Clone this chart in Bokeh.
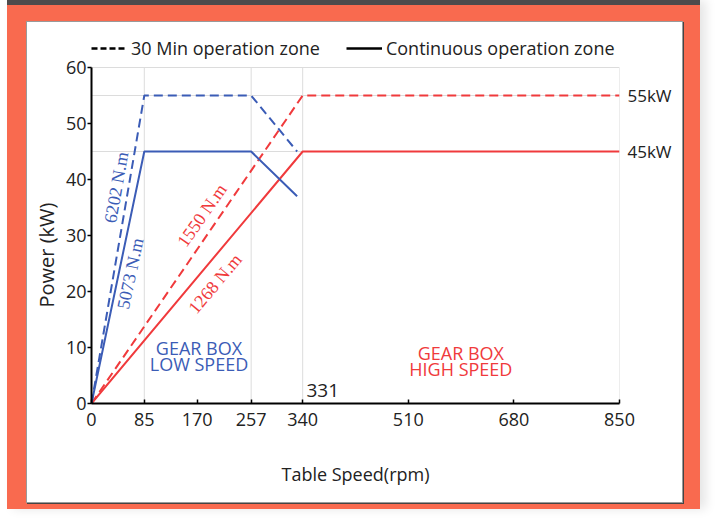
from bokeh.plotting import figure
from bokeh.models import (Range1d, FixedTicker, Label, Legend, LegendItem,
                          LinearAxis, Column, Title)
from bokeh.embed import file_html
from bokeh.resources import INLINE

# ---------------- data ----------------
low_solid_x = [0, 85, 257, 331]
low_solid_y = [0, 45, 45, 37]
low_dash_x = [0, 85, 257, 331]
low_dash_y = [0, 55, 55, 45]
high_solid_x = [0, 340, 850]
high_solid_y = [0, 45, 45]
high_dash_x = [0, 340, 850]
high_dash_y = [0, 55, 55]
x_ticks = [0, 85, 170, 257, 340, 510, 680, 850]
y_ticks = [0, 10, 20, 30, 40, 50, 60]
x_grid = [85, 257, 340, 850]
y_grid = [45, 55, 60]
power_levels = [45, 55]
power_labels = ["45kW", "55kW"]
legend_labels = ["30 Min operation zone", "Continuous operation zone"]
torque_labels = ["6202 N.m", "5073 N.m", "1550 N.m", "1268 N.m"]
zone_low = ["GEAR BOX", "LOW SPEED"]
zone_high = ["GEAR BOX", "HIGH SPEED"]
marker_label = "331"
y_title = "Power (kW)"
x_title = "Table Speed(rpm)"

BLUE = "#3B5CB6"
RED = "#F03A3C"
ORANGE = "#F96A4F"
FONT = "Open Sans"
SERIF = "Liberation Serif"
TXT = "#222222"

y_min, y_max = y_ticks[0], y_ticks[-1]

p = figure(width=655, height=480, output_backend="svg", toolbar_location=None,
           x_range=Range1d(0, 850), y_range=Range1d(0, 66.25),
           min_border_left=62, min_border_right=63, min_border_top=10,
           min_border_bottom=99, background_fill_color="white",
           border_fill_color="white", outline_line_color=None,
           styles={"background-color": "white",
                   "box-shadow": "0 0 0 1px #9a9a9a, 1px 1px 0 1px #444444"})

# grid: horizontal grid lines through the library grid, vertical ones up to 60
p.xgrid.visible = False
p.ygrid.ticker = FixedTicker(ticks=y_grid)
p.ygrid.grid_line_color = "#dcdcdc"
p.ygrid.grid_line_width = 1
p.segment(x0=x_grid, y0=[y_min] * len(x_grid), x1=x_grid, y1=[y_max] * len(x_grid),
          line_color="#dcdcdc", line_width=1)

# main axes
xax = p.xaxis[0]
yax = p.yaxis[0]
xax.ticker = FixedTicker(ticks=x_ticks)
yax.ticker = FixedTicker(ticks=y_ticks)
yax.bounds = (y_min, y_max)
for ax in (xax, yax):
    ax.axis_line_color = "black"
    ax.axis_line_width = 2
    ax.major_tick_line_color = "black"
    ax.major_tick_line_width = 1.5
    ax.minor_tick_line_color = None
    ax.major_label_text_font = FONT
    ax.major_label_text_font_size = "18px"
    ax.major_label_text_color = TXT
xax.major_tick_in = 4
xax.major_tick_out = 0
xax.major_label_standoff = 9
yax.major_tick_in = 0
yax.major_tick_out = 4
yax.major_label_standoff = 1
xax.axis_label = x_title
xax.axis_label_standoff = 33
xax.axis_label_text_font = FONT
xax.axis_label_text_font_size = "18px"
xax.axis_label_text_font_style = "normal"
xax.axis_label_text_color = TXT

# y title as a side title, anchored from the bottom of the frame
p.add_layout(Title(text=y_title, align="left", offset=96, standoff=6,
                   text_font=FONT, text_font_size="20px",
                   text_font_style="normal", text_color=TXT), "left")

# power level labels on a right axis
kw_axis = LinearAxis(ticker=FixedTicker(ticks=power_levels),
                     major_label_overrides=dict(zip(power_levels, power_labels)),
                     axis_line_color=None, major_tick_line_color=None,
                     minor_tick_line_color=None, major_tick_in=0,
                     major_tick_out=0, major_label_standoff=8,
                     major_label_text_font=FONT,
                     major_label_text_font_size="17px",
                     major_label_text_color=TXT)
p.add_layout(kw_axis, "right")

# curves
p.line(high_dash_x, high_dash_y, line_color=RED, line_width=2, line_dash="9 5")
p.line(high_solid_x, high_solid_y, line_color=RED, line_width=2)
p.line(low_dash_x, low_dash_y, line_color=BLUE, line_width=2, line_dash="9 5")
p.line(low_solid_x, low_solid_y, line_color=BLUE, line_width=2)

# legend (black samples) at the top of the frame
nan = float("nan")
r_dash = p.line([nan], [nan], line_color="black", line_width=2.5, line_dash="6 3")
r_solid = p.line([nan], [nan], line_color="black", line_width=2.5)
legend = Legend(items=[LegendItem(label=legend_labels[0], renderers=[r_dash]),
                       LegendItem(label=legend_labels[1], renderers=[r_solid])],
                orientation="horizontal", location=(0, 343), padding=0, margin=0,
                border_line_color=None, border_line_alpha=0,
                background_fill_color=None, background_fill_alpha=0,
                glyph_width=36, glyph_height=20, label_height=20,
                label_standoff=4, spacing=26, label_text_font=FONT,
                label_text_font_size="18px", label_text_color=TXT)
p.add_layout(legend, "center")

# torque annotations
torque_pos = [(40, 38.6, 80, BLUE), (62.5, 23.2, 78, BLUE),
              (178, 33.6, 55, RED), (199, 21.4, 50, RED)]
for txt, (tx, ty, ang, col) in zip(torque_labels, torque_pos):
    p.add_layout(Label(x=tx, y=ty, text=txt, angle=ang, angle_units="deg",
                       text_align="center", text_baseline="middle",
                       text_font=SERIF, text_font_size="18px", text_color=col))

# zone labels
for txt, ty in zip(zone_low, [9.9, 7.0]):
    p.add_layout(Label(x=173, y=ty, text=txt, text_align="center",
                       text_baseline="middle", text_font=FONT,
                       text_font_size="18px", text_color=BLUE))
for txt, ty in zip(zone_high, [9.1, 6.2]):
    p.add_layout(Label(x=594.6, y=ty, text=txt, text_align="center",
                       text_baseline="middle", text_font=FONT,
                       text_font_size="18px", text_color=RED))
p.add_layout(Label(x=346, y=2.3, text=marker_label, text_align="left",
                   text_baseline="middle", text_font=FONT,
                   text_font_size="19px", text_color=TXT))

card = Column(children=[p], margin=(0, 0, 0, 7),
              styles={"background-color": ORANGE,
                      "border-top": "5px solid #4E4B4C",
                      "padding": "17px 18px 7px 20px",
                      "box-shadow": "6px 0 10px rgba(0,0,0,0.10)"})

open("out.html", "w").write(file_html(card, INLINE))
